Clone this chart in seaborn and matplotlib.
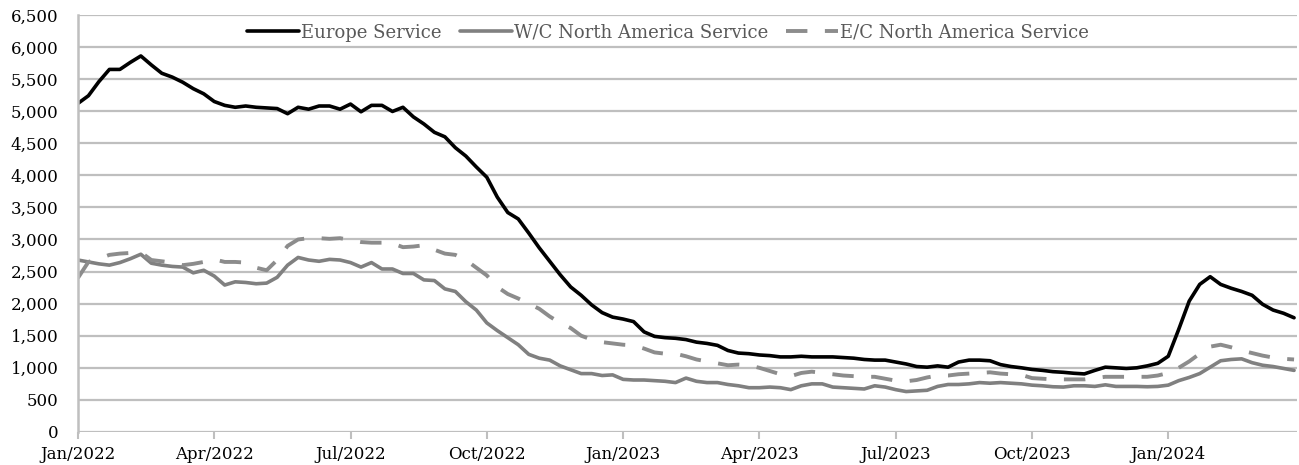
import pandas as pd
import matplotlib.pyplot as plt
import seaborn as sns

# ==========================================
# Data (weekly, Jan 2022 - Mar 2024)
# ==========================================

dates = pd.date_range("2022-01-07", periods=117, freq="7D")

europe = [
    5120, 5240, 5460, 5650, 5650, 5760, 5860, 5720, 5590, 5530,
    5450, 5350, 5270, 5150, 5090, 5060, 5080, 5060, 5050, 5040,
    4960, 5060, 5030, 5080, 5080, 5030, 5110, 4990, 5090, 5090,
    4995, 5060, 4910, 4800, 4670, 4600, 4430, 4300, 4130, 3970,
    3660, 3420, 3320, 3100, 2870, 2660, 2450, 2260, 2130, 1980,
    1860, 1790, 1760, 1720, 1560, 1490, 1470, 1460, 1440, 1400,
    1380, 1350, 1270, 1230, 1220, 1200, 1190, 1170, 1170, 1180,
    1170, 1170, 1170, 1160, 1150, 1130, 1120, 1120, 1090, 1060,
    1020, 1010, 1030, 1010, 1090, 1120, 1120, 1110, 1050, 1020,
    1000, 975, 960, 940, 930, 915, 905, 960, 1010, 1000,
    990, 1000, 1030, 1070, 1180, 1600, 2040, 2300, 2420, 2300,
    2240, 2190, 2130, 1990, 1900, 1850, 1780,
]

wc_north_america = [
    2680, 2650, 2620, 2600, 2640, 2700, 2770, 2630, 2600, 2580,
    2570, 2480, 2520, 2430, 2290, 2340, 2330, 2310, 2320, 2410,
    2600, 2720, 2680, 2660, 2690, 2680, 2640, 2570, 2640, 2540,
    2540, 2470, 2470, 2370, 2360, 2230, 2190, 2030, 1900, 1700,
    1580, 1470, 1360, 1210, 1150, 1120, 1030, 970, 910, 910,
    880, 890, 820, 810, 810, 800, 790, 770, 840, 790,
    770, 770, 740, 720, 690, 690, 700, 690, 660, 720,
    750, 750, 700, 690, 680, 670, 720, 700, 660, 630,
    640, 650, 710, 740, 740, 750, 770, 760, 770, 760,
    750, 730, 720, 705, 700, 720, 720, 710, 735, 710,
    710, 710, 705, 710, 730, 800, 850, 910, 1010, 1110,
    1130, 1140, 1080, 1040, 1020, 990, 960,
]

ec_north_america = [
    2400, 2650, 2700, 2760, 2780, 2790, 2800, 2680, 2660, 2640,
    2600, 2620, 2650, 2690, 2650, 2650, 2640, 2560, 2520, 2680,
    2900, 3000, 3020, 3020, 3010, 3020, 2990, 2960, 2950, 2950,
    2940, 2880, 2890, 2910, 2840, 2780, 2760, 2680, 2560, 2440,
    2260, 2150, 2080, 2000, 1920, 1800, 1700, 1620, 1500, 1440,
    1400, 1380, 1360, 1350, 1300, 1240, 1220, 1220, 1180, 1130,
    1100, 1070, 1040, 1050, 1040, 1000, 950, 900, 870, 920,
    940, 920, 900, 880, 870, 860, 860, 830, 800, 790,
    810, 850, 880, 880, 900, 910, 920, 930, 910, 900,
    890, 840, 830, 820, 820, 820, 820, 840, 860, 860,
    860, 860, 860, 880, 920, 1000, 1100, 1220, 1330, 1360,
    1320, 1270, 1230, 1190, 1160, 1140, 1130,
]

df = pd.DataFrame({
    "Date": dates,
    "Europe Service": europe,
    "W/C North America Service": wc_north_america,
    "E/C North America Service": ec_north_america,
})

# ==========================================
# Plot
# ==========================================

sns.set_style("white")
plt.rcParams["font.family"] = ["DejaVu Serif"]

fig = plt.figure(figsize=(12.99, 4.65), dpi=100)
ax = fig.add_axes([0.060, 0.071, 0.9385, 0.897])

grid_color = "#BFBFBF"

sns.lineplot(data=df, x="Date", y="Europe Service", ax=ax,
             color="black", linewidth=2.6, label="Europe Service")
sns.lineplot(data=df, x="Date", y="W/C North America Service", ax=ax,
             color="#808080", linewidth=2.6, label="W/C North America Service")
sns.lineplot(data=df, x="Date", y="E/C North America Service", ax=ax,
             color="#8C8C8C", linewidth=2.8, linestyle=(0, (5.5, 4.5)),
             label="E/C North America Service")

ax.set_ylim(0, 6500)
ax.set_yticks(range(0, 6501, 500))
ax.set_yticklabels([f"{v:,}" for v in range(0, 6501, 500)])
ax.yaxis.grid(True, color=grid_color, linewidth=1.6)
ax.set_axisbelow(True)

tick_dates = dates[::13]
ax.set_xticks(tick_dates)
ax.set_xticklabels([d.strftime("%b/%Y") for d in tick_dates])
ax.set_xlim(dates[0], dates[-1] + pd.Timedelta(days=2))

ax.set_xlabel("")
ax.set_ylabel("")

for side in ["top", "right", "bottom"]:
    ax.spines[side].set_visible(False)
ax.spines["left"].set_color(grid_color)
ax.spines["left"].set_linewidth(1.8)

ax.tick_params(axis="y", length=0, pad=14, labelsize=12, labelcolor="black")
ax.tick_params(axis="x", length=5, width=1.5, color=grid_color, direction="out",
               pad=5, labelsize=12, labelcolor="black", bottom=True)

leg = ax.legend(loc="center", bbox_to_anchor=(0.484, 0.957), ncol=3,
                frameon=False, fontsize=13, handlelength=2.9,
                handletextpad=0.1, columnspacing=1.0, borderaxespad=0)
for t in leg.get_texts():
    t.set_color("#595959")

plt.savefig("out.png", dpi=100)
plt.close()
